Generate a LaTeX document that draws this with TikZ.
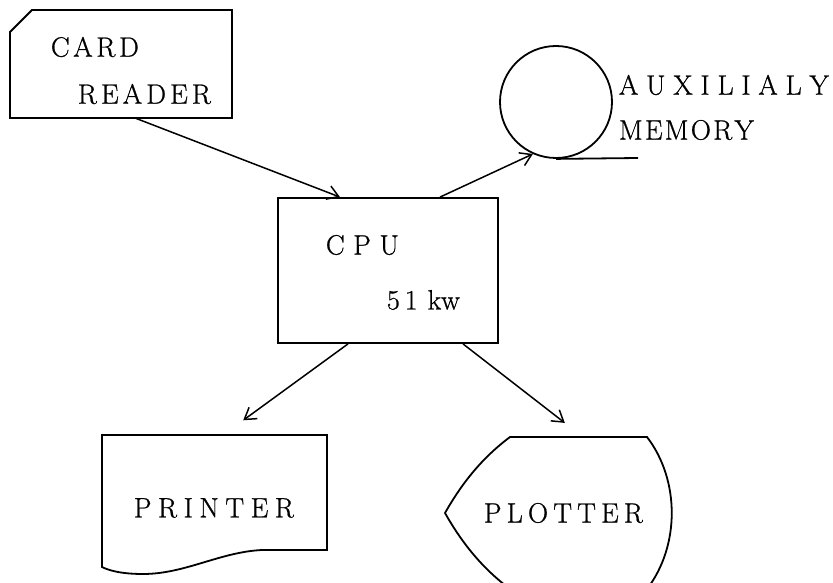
\documentclass[tikz,border=0pt]{standalone}
\usepackage{fontspec}
\usetikzlibrary{arrows.meta}
\newfontfamily\lblfont[FakeBold=0.8]{Latin Modern Roman}
\newcommand{\sprd}[2]{\makebox[#1][s]{#2}}
\begin{document}
\begin{tikzpicture}[x=1pt,y=-1pt,line width=1.8pt,
  >={Straight Barb[length=11pt,width=14pt,line width=1.5pt]},
  holder/.style={draw=none,inner sep=0pt,outer sep=0pt,rectangle},
  lbl/.style={inner sep=0pt,anchor=west,font=\lblfont\fontsize{28}{30}\selectfont},
  conn/.style={->,line width=1.5pt}]
\useasboundingbox (0,0) rectangle (833,583);
\fill[white] (0,0) rectangle (833,583);
\clip (0,0) rectangle (833,583);
% card reader
\node[holder,minimum width=222pt,minimum height=108pt] (card) at (121,64) {};
\draw (10,118) -- (10,32) -- (32,10) -- (232,10) -- (232,118) -- cycle;
\node[lbl] (t1) at (50,47) {\sprd{88pt}{C\hfil A\hfil R\hfil D}};
\node[lbl] (t2) at (77,94) {\sprd{133pt}{R\hfil E\hfil A\hfil D\hfil E\hfil R}};
% cpu
\node[draw,rectangle,inner sep=0pt,minimum width=220pt,minimum height=145pt] (cpu) at (388,270.5) {};
\node[lbl] (t3) at (325,245) {\sprd{73pt}{C\hfil P\hfil U}};
\node[lbl] (t4) at (386,300) {\sprd{73pt}{5\hfil 1\hfil\hfil kw}};
% auxiliary memory
\node[draw,circle,inner sep=0pt,minimum size=112pt] (aux) at (556,102) {};
\coordinate (tanend) at (638,158);
\draw (aux.south) -- (tanend);
\node[lbl] (t5) at (618,85) {\sprd{210pt}{A\hfil U\hfil X\hfil I\hfil L\hfil I\hfil A\hfil L\hfil Y}};
\node[lbl] (t6) at (618,130) {\sprd{135pt}{M\hfil E\hfil M\hfil O\hfil R\hfil Y}};
% printer
\node[holder,minimum width=224pt,minimum height=125pt] (printer) at (215,497.5) {};
\draw (102,567) -- (102,435) -- (327,435) -- (327,550) -- (262,550)
  .. controls (220,552) and (185,574) .. (143,574)
  .. controls (120,574) and (108,570) .. (102,567) -- cycle;
\node[lbl] (t7) at (133,508) {\sprd{160pt}{P\hfil R\hfil I\hfil N\hfil T\hfil E\hfil R}};
% plotter
\node[holder,minimum width=226pt,minimum height=152pt] (plotter) at (560,513) {};
\draw (510,437) -- (647,437) .. controls (680,480) and (680,546) .. (647,589)
  -- (510,589) .. controls (482,568) and (462,543) .. (445,513)
  .. controls (462,483) and (482,458) .. (510,437) -- cycle;
\node[lbl] (t8) at (483,513) {\sprd{159pt}{P\hfil L\hfil O\hfil T\hfil T\hfil E\hfil R}};
% connectors
\draw[conn] ([xshift=14pt]card.south) -- ([xshift=-48pt]cpu.north);
\draw[conn] ([xshift=52pt]cpu.north) -- (aux.246);
\draw[conn,shorten >=25pt] ([xshift=-40pt]cpu.south) -- ([xshift=8pt]printer.north);
\draw[conn,shorten >=23pt] ([xshift=75pt]cpu.south) -- ([xshift=23pt]plotter.north);
\end{tikzpicture}
\end{document}
